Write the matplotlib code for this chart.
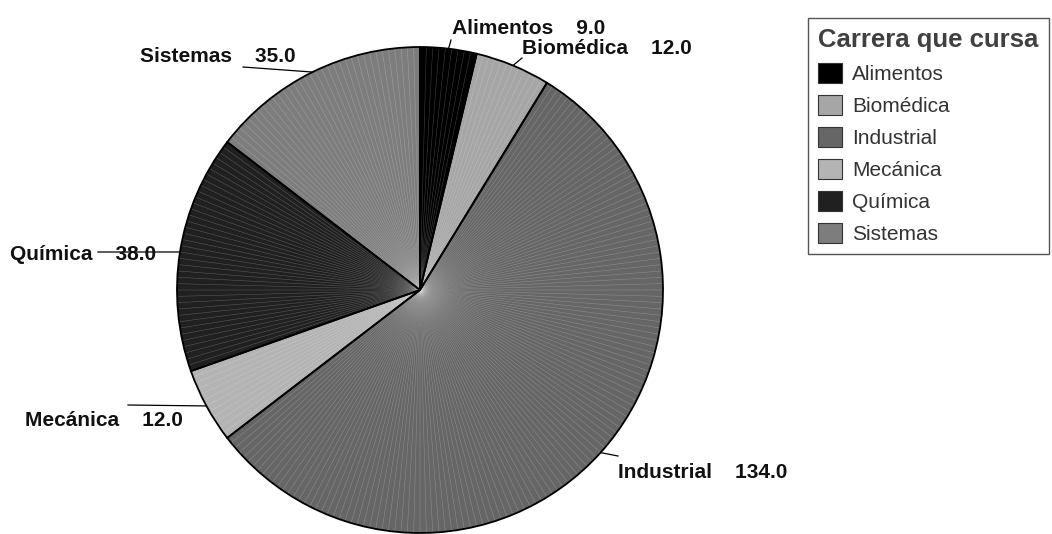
import numpy as np
import matplotlib.pyplot as plt
import matplotlib as mpl
from matplotlib.patches import Patch

mpl.rcParams['font.family'] = ['Liberation Sans', 'DejaVu Sans']

# counts per career
careers = ['Alimentos', 'Biomédica', 'Industrial', 'Mecánica', 'Química', 'Sistemas']
counts = [9, 12, 134, 12, 38, 35]
shades = ['#000000', '#a6a6a6', '#666666', '#b4b4b4', '#202020', '#7d7d7d']
legend_title = 'Carrera que cursa'

W, H = 1052, 534
cx, cy, rad = 420, 290, 243  # pie centre / radius in pixels


def px(x, y):
    # pixel position -> pie data units
    return (x - cx) / rad, (cy - y) / rad


fig = plt.figure(figsize=(W / 100, H / 100), dpi=100)
ax = fig.add_axes([(cx - rad) / W, (H - cy - rad) / H, 2 * rad / W, 2 * rad / H])

pie_kw = dict(startangle=90, counterclock=False, radius=1)

# solid category slices
ax.pie(counts, colors=shades, wedgeprops=dict(edgecolor='none', linewidth=0), **pie_kw)
# faint spokes, one per student
unit_vals = np.ones(sum(counts))
ax.pie(unit_vals, colors=['none'] * len(unit_vals),
       wedgeprops=dict(edgecolor=(1, 1, 1, 0.13), linewidth=0.4), **pie_kw)
# category outlines
wedges, _ = ax.pie(counts, colors=['none'] * len(counts),
                   wedgeprops=dict(edgecolor='black', linewidth=1.3), **pie_kw)

# label text positions (left edge of text) and leader line ends
label_pos = [px(452, 29), px(522, 48), px(618, 472), px(25, 420), px(10, 255), px(140, 57)]
leader_end = [px(451, 40), px(522, 58), px(618, 456), px(128, 405), px(98, 252), px(243, 67)]

for w, name, val, tp, le in zip(wedges, careers, counts, label_pos, leader_end):
    mid = np.deg2rad((w.theta1 + w.theta2) / 2)
    ex, ey = np.cos(mid), np.sin(mid)
    ax.plot([ex, le[0]], [ey, le[1]], color='black', lw=0.9, clip_on=False)
    ax.text(tp[0], tp[1], f'{name}    {val:.1f}', ha='left', va='center',
            fontsize=15, fontweight='bold', color='#111111', clip_on=False)

ax.set_xlim(-1, 1)
ax.set_ylim(-1, 1)
ax.axis('off')

handles = [Patch(facecolor=c, edgecolor='#333333', linewidth=0.8) for c in shades]
leg = fig.legend(handles, careers, loc='upper left', bbox_to_anchor=(808 / W, 1 - 18 / H),
                 borderaxespad=0, frameon=True, fancybox=False, framealpha=1,
                 edgecolor='#555555', fontsize=15, title=legend_title,
                 title_fontproperties=dict(size=18.5, weight='bold'),
                 handlelength=1.15, handleheight=1.1, handletextpad=0.45,
                 labelspacing=0.52, borderpad=0.5, alignment='left')
leg.get_frame().set_linewidth(1.0)
leg.get_title().set_color('#404040')
for t in leg.get_texts():
    t.set_color('#333333')

fig.savefig('out.png', dpi=100)
